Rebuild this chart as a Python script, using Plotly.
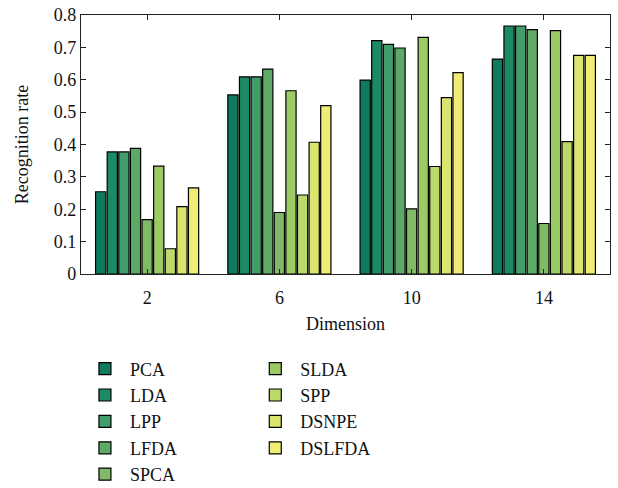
import plotly.graph_objects as go

dimensions = ["2", "6", "10", "14"]
methods = ["PCA", "LDA", "LPP", "LFDA", "SPCA", "SLDA", "SPP", "DSNPE", "DSLFDA"]
values = {
    "PCA":    [0.254, 0.553, 0.599, 0.664],
    "LDA":    [0.377, 0.609, 0.721, 0.766],
    "LPP":    [0.377, 0.609, 0.709, 0.766],
    "LFDA":   [0.388, 0.633, 0.698, 0.755],
    "SPCA":   [0.168, 0.190, 0.201, 0.156],
    "SLDA":   [0.333, 0.566, 0.731, 0.752],
    "SPP":    [0.078, 0.244, 0.332, 0.409],
    "DSNPE":  [0.208, 0.407, 0.545, 0.675],
    "DSLFDA": [0.266, 0.520, 0.622, 0.675],
}
colors = ["#0e7a60", "#1c8a64", "#419d69", "#5daa66", "#80ba67",
          "#9ccb66", "#bcda6b", "#dbe56d", "#f0ec74"]
y_ticks = [0, 0.1, 0.2, 0.3, 0.4, 0.5, 0.6, 0.7, 0.8]
y_tick_labels = ["0", "0.1", "0.2", "0.3", "0.4", "0.5", "0.6", "0.7", "0.8"]

font_family = "Liberation Serif, DejaVu Serif, serif"

fig = go.Figure()
for i, m in enumerate(methods):
    fig.add_trace(go.Bar(
        x=dimensions, y=values[m], name=m,
        marker=dict(color=colors[i], line=dict(color="black", width=1.2)),
        legend="legend" if i < 5 else "legend2",
    ))

axis_common = dict(
    showline=True, linecolor="#222", linewidth=1.2, mirror="ticks",
    ticks="inside", tickcolor="#222", ticklen=5, tickwidth=1,
    showgrid=False, zeroline=False,
    tickfont=dict(family=font_family, size=18, color="#111"),
)

legend_common = dict(
    yanchor="top", xanchor="left", orientation="v",
    font=dict(family=font_family, size=18, color="#111"),
    itemwidth=40, tracegroupgap=0, bgcolor="rgba(0,0,0,0)",
)

fig.update_layout(
    width=618, height=488,
    margin=dict(l=81, r=8, t=15, b=214, autoexpand=False),
    paper_bgcolor="white", plot_bgcolor="white",
    barmode="group", bargap=0.21, bargroupgap=0.12,
    font=dict(family=font_family, size=18, color="#111"),
    xaxis=dict(**axis_common, ticklabelstandoff=7,
               title=dict(text="Dimension", standoff=10,
                          font=dict(family=font_family, size=18)),
               range=[-0.5, 3.5]),
    yaxis=dict(**axis_common, range=[0, 0.8], tickvals=y_ticks,
               ticktext=y_tick_labels,
               title=dict(text="Recognition rate", standoff=20,
                          font=dict(family=font_family, size=18))),
    legend=dict(**legend_common, x=-0.002, y=-0.295),
    legend2=dict(**legend_common, x=0.32, y=-0.295),
    showlegend=True,
)

fig.write_html(
    "out.html",
    config={"displayModeBar": False},
    post_script="document.body.style.margin='0';document.body.style.overflow='hidden';",
)
